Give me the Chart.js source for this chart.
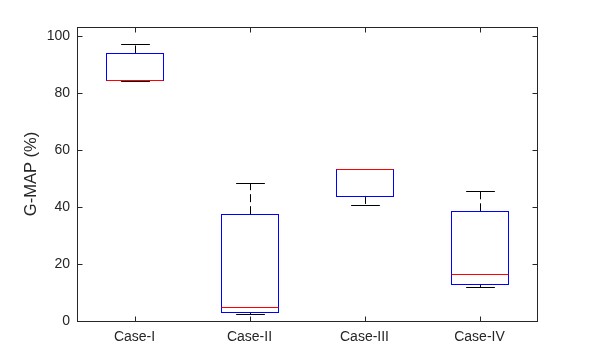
<!DOCTYPE html>
<html>
<head>
<meta charset="utf-8">
<script src="https://cdn.jsdelivr.net/npm/chart.js@4"></script>
<style>
  html, body { margin: 0; padding: 0; background: #ffffff; }
  #wrap { width: 595px; height: 361px; }
</style>
</head>
<body>
<div id="wrap"><canvas id="chart_box"></canvas></div>
<script>
/* ------------------
    Data
-------------------*/
var categories = ['Case-I', 'Case-II', 'Case-III', 'Case-IV'];
var mins    = [84.2,  2.3, 40.7, 11.9];
var q1s     = [84.5,  3.0, 43.9, 13.0];
var medians = [84.5,  5.0, 53.2, 16.5];
var q3s     = [93.9, 37.5, 53.2, 38.5];
var maxs    = [97.1, 48.3, 53.2, 45.7];
var yTicks  = [0, 20, 40, 60, 80, 100];

var axisColor = '#262626';

// boxes are floating bars [q1, q3]
var boxData = q1s.map(function (q, i) { return [q, q3s[i]]; });

function px(v) { return Math.round(v) + 0.5; }

/* ------------------
    Whiskers, boxes, medians, axes box
-------------------*/
var boxplotParts = {
  id: 'boxplotParts',
  beforeDatasetsDraw: function (chart) {
    var ctx = chart.ctx, x = chart.scales.x, y = chart.scales.y;
    var bars = chart.getDatasetMeta(0).data;
    ctx.save();
    ctx.lineWidth = 1;
    ctx.strokeStyle = '#000000';
    for (var i = 0; i < categories.length; i++) {
      var cx = px(x.getPixelForValue(i));
      var half = bars[i].width / 4;
      // dashed whisker lines
      ctx.setLineDash([8, 4]);
      ctx.beginPath();
      ctx.moveTo(cx, y.getPixelForValue(q3s[i]));
      ctx.lineTo(cx, y.getPixelForValue(maxs[i]));
      ctx.moveTo(cx, y.getPixelForValue(q1s[i]));
      ctx.lineTo(cx, y.getPixelForValue(mins[i]));
      ctx.stroke();
      // caps
      ctx.setLineDash([]);
      ctx.beginPath();
      var yt = px(y.getPixelForValue(maxs[i]));
      var yb = px(y.getPixelForValue(mins[i]));
      ctx.moveTo(cx - half, yt); ctx.lineTo(cx + half, yt);
      ctx.moveTo(cx - half, yb); ctx.lineTo(cx + half, yb);
      ctx.stroke();
    }
    ctx.restore();
  },
  afterDatasetsDraw: function (chart) {
    var ctx = chart.ctx, x = chart.scales.x, y = chart.scales.y;
    var bars = chart.getDatasetMeta(0).data;
    var a = chart.chartArea;
    ctx.save();
    ctx.lineWidth = 1;
    for (var i = 0; i < categories.length; i++) {
      var bar = bars[i];
      var bl = px(bar.x - bar.width / 2), br = px(bar.x + bar.width / 2);
      var bt = px(y.getPixelForValue(q3s[i])), bb = px(y.getPixelForValue(q1s[i]));
      // box outline
      ctx.strokeStyle = '#0000ff';
      ctx.strokeRect(bl, bt, br - bl, bb - bt);
      // median
      var ym = px(y.getPixelForValue(medians[i]));
      ctx.strokeStyle = '#ff0000';
      ctx.beginPath();
      ctx.moveTo(bl, ym); ctx.lineTo(br, ym);
      ctx.stroke();
    }
    // axes box
    ctx.strokeStyle = axisColor;
    var l = px(a.left), r = px(a.right), t = px(a.top), b = px(a.bottom);
    ctx.strokeRect(l, t, r - l, b - t);
    // inward ticks
    ctx.beginPath();
    yTicks.forEach(function (v) {
      var yy = px(y.getPixelForValue(v));
      ctx.moveTo(l, yy); ctx.lineTo(l + 5, yy);
      ctx.moveTo(r, yy); ctx.lineTo(r - 5, yy);
    });
    categories.forEach(function (c, i) {
      var xx = px(x.getPixelForValue(i));
      ctx.moveTo(xx, b); ctx.lineTo(xx, b - 5);
      ctx.moveTo(xx, t); ctx.lineTo(xx, t + 5);
    });
    ctx.stroke();
    ctx.restore();
  }
};

/* ------------------
    Chart
-------------------*/
var chart_box = new Chart(document.getElementById('chart_box'), {
  type: 'bar',
  data: {
    labels: categories,
    datasets: [{
      label: 'G-MAP',
      data: boxData,
      backgroundColor: 'rgba(0,0,0,0)',
      borderWidth: 0,
      categoryPercentage: 0.5,
      barPercentage: 1.0
    }]
  },
  options: {
    responsive: true,
    maintainAspectRatio: false,
    animation: false,
    layout: { padding: { top: 27, right: 58, left: 22, bottom: 0 } },
    plugins: {
      legend: { display: false },
      tooltip: { enabled: false }
    },
    scales: {
      x: {
        offset: true,
        grid: { display: false, drawTicks: false },
        border: { display: false },
        ticks: {
          color: axisColor,
          padding: 8,
          font: { family: 'Liberation Sans, Arial', size: 14 }
        },
        afterFit: function (s) { s.height = 40; }
      },
      y: {
        min: 0,
        max: 103.2,
        grid: { display: false, drawTicks: false },
        border: { display: false },
        afterBuildTicks: function (s) {
          s.ticks = yTicks.map(function (v) { return { value: v }; });
        },
        ticks: {
          color: axisColor,
          padding: 7,
          font: { family: 'Liberation Sans, Arial', size: 14 }
        },
        title: {
          display: true,
          text: 'G-MAP (%)',
          color: axisColor,
          padding: { top: 0, bottom: 0 },
          font: { family: 'Liberation Sans, Arial', size: 16.5 }
        },
        afterFit: function (s) { s.width = 55; }
      }
    }
  },
  plugins: [boxplotParts]
});
</script>
</body>
</html>
